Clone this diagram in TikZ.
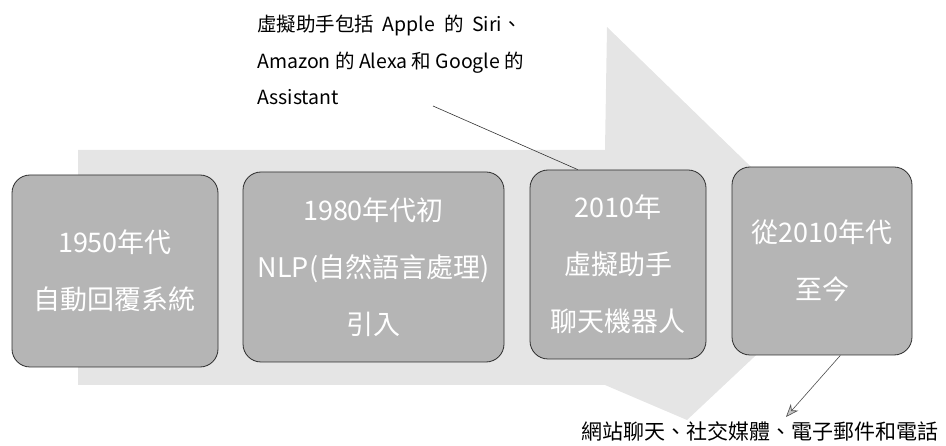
\documentclass[tikz,border=0pt]{standalone}
\usepackage{fontspec}
\setmainfont{Noto Sans CJK TC}
\usetikzlibrary{arrows.meta}
\begin{document}
\begin{tikzpicture}[x=1pt,y=-1pt,
  bigarrow/.style={fill=gray!20,draw=none},
  stagebox/.style={rectangle,rounded corners=18pt,fill=gray!58,draw=gray!35!black,line width=0.8pt,
     text=white,align=center,inner sep=0pt,font=\fontsize{27}{57}\selectfont},
  calltext/.style={anchor=base west,inner sep=0pt,font=\fontsize{19.5}{24}\selectfont},
  leader/.style={draw=black!80,line width=0.6pt}]
\useasboundingbox (0,0) rectangle (946,446);
% big background arrow
\fill[bigarrow] (78,150) -- (605,150) -- (607,27) -- (852,265) -- (687,420) -- (605,385) -- (78,385) -- cycle;
% stage boxes
\node[stagebox,minimum width=206pt,minimum height=192pt] (b1) at (115,271) {1950年代\\自動回覆系統};
\node[stagebox,minimum width=261pt,minimum height=190pt] (b2) at (373.5,267) {1980年代初\\NLP(自然語言處理)\\引入};
\node[stagebox,minimum width=176pt,minimum height=189pt] (b3) at (618,264.5) {2010年\\虛擬助手\\聊天機器人};
\node[stagebox,minimum width=180pt,minimum height=188pt] (b4) at (822,261) {從2010年代\\至今};
% callout texts
\node[calltext] (t1) at (257,32) {虛擬助手包括\ \ Apple\ \ 的\ \ Siri、};
\node[calltext] (t2) at (257,69) {Amazon 的 Alexa 和 Google 的};
\node[calltext] (t3) at (257,105) {Assistant};
\coordinate (c1) at (433,106);
\draw[leader] (c1) -- (b3.113);
\node[anchor=west,inner sep=0pt,font=\fontsize{21}{24}\selectfont] (t4) at (581,431) {網站聊天、社交媒體、電子郵件和電話};
\coordinate (c2) at (786,417);
\draw[leader,draw=black!70,-{Stealth[length=13pt,width=10pt,fill=gray!45]}] (b4.-79) -- (c2);
\end{tikzpicture}
\end{document}
